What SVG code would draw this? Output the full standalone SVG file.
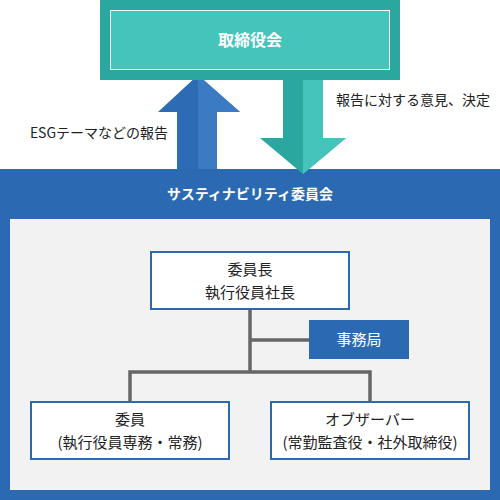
<svg xmlns="http://www.w3.org/2000/svg" width="500" height="500" viewBox="0 0 500 500">
<style>
text{font-family:"Noto Sans CJK JP","Noto Sans",sans-serif;text-anchor:middle}
.w{fill:#fff;font-weight:bold;font-size:14px}
.d{fill:#222;font-size:14px}
.b{fill:#222;font-size:15px}
.box{fill:#fff;stroke:#2b6ab3;stroke-width:2}
.ln{fill:none;stroke:#666;stroke-width:3.5}
</style>
<rect x="0" y="169" width="500" height="331" fill="#2b6ab3"/>
<rect x="10" y="219" width="480" height="271" fill="#f2f2f2"/>
<text class="w" x="250" y="199" font-size="13.5">サスティナビリティ委員会</text>
<g id="connectors">
<polygon points="198,75 240,112 217,112 217,169 177,169 177,112 158,112" fill="#2d6bb5"/>
<polygon points="198,75 240,112 217,112 217,169 198,169" fill="#3a7bc4"/>
<polygon points="283,80 323,80 323,138 346,138 303,174 260,138 283,138" fill="#2aa8a0"/>
<polygon points="303,80 323,80 323,138 346,138 303,174" fill="#45c4bc"/>
<path class="ln" d="M250,309V372M250,340H310M130,401V372H370V401"/>
<text class="d" x="99" y="138">ESGテーマなどの報告</text>
<text class="d" x="413" y="105">報告に対する意見、決定</text>
</g>
<g id="board">
<rect x="100" y="0" width="300" height="80" fill="#2aa8a0"/>
<rect x="110.5" y="10.5" width="279" height="59" fill="#45c4bc" stroke="#fff" stroke-width="1"/>
<text class="w" x="250" y="46" style="font-size:16px">取締役会</text>
</g>
<g id="chair">
<rect class="box" x="151" y="252" width="198" height="57"/>
<text class="b" x="250" y="275">委員長</text>
<text class="b" x="250" y="298">執行役員社長</text>
</g>
<g id="office">
<rect x="309" y="320" width="100" height="39" fill="#2b6ab3"/>
<text x="359" y="345" fill="#fff" font-size="15">事務局</text>
</g>
<g id="members">
<rect class="box" x="31" y="402" width="198" height="57"/>
<text class="b" x="130" y="425">委員</text>
<text class="b" x="130" y="448">(執行役員専務・常務)</text>
</g>
<g id="observers">
<rect class="box" x="271" y="402" width="198" height="57"/>
<text class="b" x="370" y="425">オブザーバー</text>
<text class="b" x="370" y="448">(常勤監査役・社外取締役)</text>
</g>
</svg>
